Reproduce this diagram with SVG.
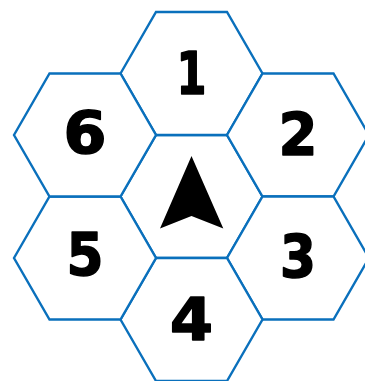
<svg xmlns="http://www.w3.org/2000/svg" xmlns:xlink="http://www.w3.org/1999/xlink" width="365" height="381" viewBox="0 0 365 381">
<style>
.hex{fill:#fff;stroke:#0A70BC;stroke-width:2.4;stroke-linejoin:miter}
.num{font-family:"DejaVu Sans",sans-serif;font-weight:bold;font-size:58px;fill:#000;stroke:#000;stroke-width:1.6;stroke-linejoin:round;text-anchor:middle}
</style>
<defs>
<polygon id="hexshape" points="-71,0 -35.5,-61.5 35.5,-61.5 71,0 35.5,61.5 -35.5,61.5"/>
</defs>
<rect width="365" height="381" fill="#fff"/>
<g id="connectors"></g>
<g id="hex-center" transform="translate(191.5,196.5)">
<use xlink:href="#hexshape" class="hex"/>
<polygon points="0,-40.5 -31.5,32 0,19.5 31.8,32" fill="#000"/>
</g>
<g id="hex-1" transform="translate(191.5,73.5)">
<use xlink:href="#hexshape" class="hex"/>
<text class="num" x="0" y="20.5" textLength="30" lengthAdjust="spacingAndGlyphs">1</text>
</g>
<g id="hex-2" transform="translate(298,135)">
<use xlink:href="#hexshape" class="hex"/>
<text class="num" x="0" y="19.5" textLength="39" lengthAdjust="spacingAndGlyphs">2</text>
</g>
<g id="hex-3" transform="translate(298,258)">
<use xlink:href="#hexshape" class="hex"/>
<text class="num" x="0" y="18.5" textLength="36" lengthAdjust="spacingAndGlyphs">3</text>
</g>
<g id="hex-4" transform="translate(191.5,319.5)">
<use xlink:href="#hexshape" class="hex"/>
<text class="num" x="0" y="20" textLength="43" lengthAdjust="spacingAndGlyphs">4</text>
</g>
<g id="hex-5" transform="translate(85,258)">
<use xlink:href="#hexshape" class="hex"/>
<text class="num" x="0" y="16.5" textLength="37" lengthAdjust="spacingAndGlyphs">5</text>
</g>
<g id="hex-6" transform="translate(85,135)">
<use xlink:href="#hexshape" class="hex"/>
<text class="num" x="0" y="17.5" textLength="43" lengthAdjust="spacingAndGlyphs">6</text>
</g>
</svg>
